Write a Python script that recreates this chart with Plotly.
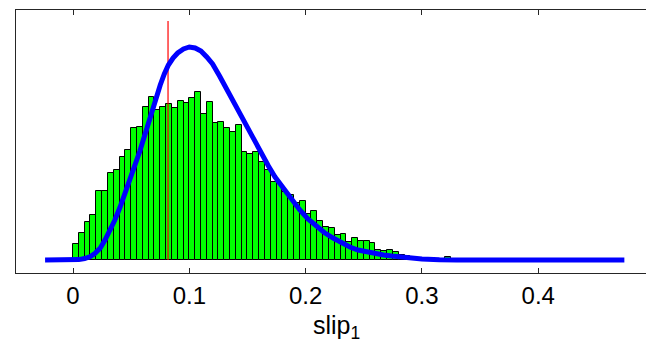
import plotly.graph_objects as go

# Histogram (bin width 0.005, starting at 0)
bin_width = 0.005
bin_start = 0.0
counts = [15.7, 26.7, 38.3, 45, 69, 69, 86.7, 90, 102.7, 110,
          131.7, 132.7, 152.7, 162.7, 150, 152.7, 156.5, 152, 159, 156.7,
          161.7, 168, 146.5, 157.7, 137.5, 138.5, 131.7, 128.3, 134.7, 108,
          106.5, 107.7, 98, 90, 78.3, 76.7, 68.5, 65, 57.5, 59,
          46, 49.5, 39.5, 33.3, 31.7, 25.3, 25.7, 18.5, 21.7, 19.3,
          19.2, 16.7, 10.5, 9.5, 10.3, 7.7, 5, 4, 3.5, 2,
          1, 0, 0, 0, 3.3]
bin_centers = [bin_start + bin_width * (i + 0.5) for i in range(len(counts))]

# Fitted density curve
curve_x = [-0.024, 0.0, 0.005, 0.01, 0.015, 0.019, 0.0235, 0.0275, 0.032, 0.036,
           0.0405, 0.045, 0.049, 0.053, 0.0575, 0.062, 0.0665, 0.071, 0.075, 0.0785,
           0.082, 0.086, 0.09, 0.095, 0.1, 0.105, 0.11, 0.115, 0.12, 0.126,
           0.132, 0.139, 0.145, 0.1505, 0.156, 0.162, 0.168, 0.1737, 0.18, 0.188,
           0.195, 0.202, 0.2095, 0.216, 0.2236, 0.23, 0.238, 0.245, 0.2525, 0.26,
           0.267, 0.274, 0.281, 0.29, 0.30, 0.315, 0.33, 0.474]
curve_y = [0, 0, 0.4, 1.5, 3.5, 6.7, 12, 20, 29.5, 40,
           53, 67, 80, 93, 109, 126, 144, 161, 175, 186,
           195, 202, 207, 211, 213, 212, 209, 203, 196, 184,
           171, 157, 144, 132, 119, 105, 94, 83, 73, 60,
           50, 41, 33, 27.5, 22, 17.5, 13, 10, 8, 6.2,
           5, 4, 3, 2, 1, 0.3, 0, 0]

# Reference value (red line)
ref_x = 0.0817
ref_top = 239

tick_vals = [0, 0.1, 0.2, 0.3, 0.4]
tick_text = ["0", "0.1", "0.2", "0.3", "0.4"]

fig = go.Figure()
fig.add_trace(go.Bar(
    x=bin_centers, y=counts, width=bin_width,
    marker=dict(color="#00ff00", line=dict(color="#000000", width=1)),
    showlegend=False, hoverinfo="skip"))
fig.add_trace(go.Scatter(
    x=[ref_x, ref_x], y=[0, ref_top], mode="lines",
    line=dict(color="#ff0000", width=1.2), showlegend=False, hoverinfo="skip"))
fig.add_trace(go.Scatter(
    x=curve_x, y=curve_y, mode="lines",
    line=dict(color="#0000ff", width=5), showlegend=False, hoverinfo="skip"))

axis_color = "#262626"
fig.update_layout(
    width=646, height=354,
    margin=dict(l=16, r=0, t=10, b=81, autoexpand=False),
    paper_bgcolor="white", plot_bgcolor="white",
    bargap=0,
    font=dict(family="Liberation Sans, Arial, sans-serif", color="#000000"),
    xaxis=dict(
        range=[-0.049, 0.4926], tickvals=tick_vals, ticktext=tick_text,
        ticks="inside", ticklen=5, tickcolor=axis_color, tickwidth=1,
        showline=True, linecolor=axis_color, linewidth=1, mirror="ticks",
        showgrid=False, zeroline=False, automargin=False,
        tickfont=dict(size=24), ticklabelstandoff=1,
    ),
    yaxis=dict(
        range=[-13, 250], showticklabels=False, ticks="",
        showline=True, linecolor=axis_color, linewidth=1, mirror=True,
        showgrid=False, zeroline=False, automargin=False,
    ),
    annotations=[dict(
        text="slip<sub>1</sub>", xref="paper", yref="paper",
        x=(336 - 16) / 630, y=(273 - 327) / 263,
        xanchor="center", yanchor="middle", showarrow=False,
        font=dict(size=25))],
)

fig.write_html("out.html", config={"displayModeBar": False},
               post_script="document.body.style.margin='0';")
